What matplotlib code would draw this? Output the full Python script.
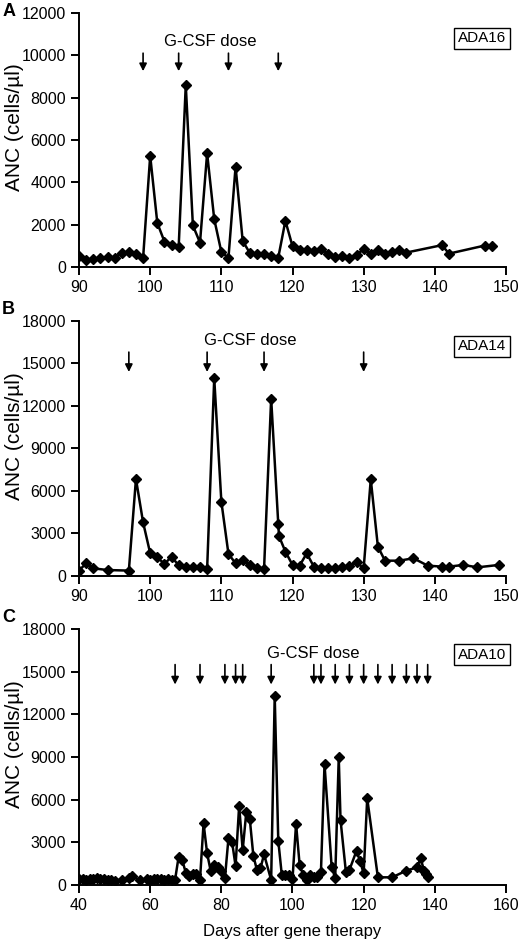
import numpy as np
import matplotlib
matplotlib.use('Agg')
import matplotlib.pyplot as plt

plt.rcParams['font.family'] = ['Liberation Sans', 'DejaVu Sans']

# panel A - ADA16
days_a = [90, 91, 92, 93, 94, 95, 96, 97, 98, 99, 100, 101, 102, 103, 104, 105, 106, 107,
          108, 109, 110, 111, 112, 113, 114, 115, 116, 117, 118, 119, 120, 121, 122, 123,
          124, 125, 126, 127, 128, 129, 130, 131, 132, 133, 134, 135, 136, 141, 142, 147, 148]
anc_a = [500, 350, 380, 410, 470, 430, 680, 710, 600, 410, 5250, 2080, 1200, 1030, 920,
         8590, 1960, 1150, 5370, 2260, 710, 430, 4740, 1230, 660, 630, 630, 540, 440, 2180,
         980, 790, 790, 760, 870, 600, 470, 500, 440, 570, 840, 630, 810, 620, 700, 790,
         680, 1030, 630, 1010, 1010]
doses_a = [99, 104, 111, 118]

# panel B - ADA14
days_b = [90, 91, 92, 94, 97, 98, 99, 100, 101, 102, 103, 104, 105, 106, 107, 108, 109,
          110, 111, 112, 113, 114, 115, 116, 117, 118, 118.1, 119, 120, 121, 122, 123, 124,
          125, 126, 127, 128, 129, 130, 131, 132, 133, 135, 137, 139, 141, 142, 144, 146, 149]
anc_b = [380, 900, 540, 420, 380, 6850, 3790, 1600, 1320, 850, 1360, 750, 660, 610, 660,
         470, 13950, 5250, 1550, 900, 1130, 780, 540, 470, 12520, 3670, 2820, 1720, 780,
         730, 1600, 660, 590, 590, 590, 610, 730, 960, 540, 6820, 2070, 1080, 1080, 1250,
         730, 660, 660, 780, 610, 780]
doses_b = [97, 108, 116, 130]

# panel C - ADA10
days_c = [40, 41, 42, 43, 44, 45, 46, 47, 48, 49, 50, 52, 54, 55, 57, 59, 60, 61, 62, 63,
          64, 65, 66, 67, 68, 69, 70, 71, 72, 73, 74, 75, 76, 77, 78, 79, 80, 81, 82, 83,
          84, 85, 86, 87, 88, 89, 90, 91, 92, 94, 95, 96, 97, 98, 99, 100, 101, 102, 103,
          104, 105, 106, 107, 108, 109, 111, 112, 113, 113.5, 115, 116, 118, 119, 120, 121,
          124, 128, 132, 135, 136, 137, 137.5, 138]
anc_c = [450, 430, 380, 420, 400, 500, 400, 420, 380, 350, 300, 380, 500, 600, 350, 400,
         380, 420, 400, 420, 380, 400, 350, 380, 2000, 1760, 870, 620, 760, 760, 380,
         4340, 2230, 990, 1410, 1250, 990, 470, 3285, 3050, 1340, 5560, 2460, 5100, 4620,
         2040, 1060, 1170, 2160, 350, 13310, 3120, 690, 690, 690, 400, 4300, 1430, 690,
         350, 700, 540, 590, 940, 8500, 1290, 470, 8970, 4570, 940, 1060, 2410, 1660, 820,
         6100, 540, 540, 1010, 1240, 1870, 1010, 770, 540]
doses_c = [67, 74, 81, 84, 86, 94, 106, 108, 112, 116, 120, 124, 128, 132, 135, 138]

panels = [
    ('A', 'ADA16', days_a, anc_a, doses_a, (90, 150, 10), (0, 12000, 2000), (10100, 9250), (108.5, 10650)),
    ('B', 'ADA14', days_b, anc_b, doses_b, (90, 150, 10), (0, 18000, 3000), (15800, 14400), (114, 16650)),
    ('C', 'ADA10', days_c, anc_c, doses_c, (40, 160, 20), (0, 18000, 3000), (15500, 14100), (105.7, 16270)),
]

fig = plt.figure(figsize=(5.2, 9.39), dpi=100)
bottoms = [0.7157, 0.3866, 0.0575]
heights = [0.2705, 0.2716, 0.2726]
letter_y = [0.9878, 0.6699, 0.3429]

for (letter, patient, xs, ys, doses, xr, yr, arr, txt), b, h, ly in zip(panels, bottoms, heights, letter_y):
    ax = fig.add_axes([0.152, b, 0.821, h])
    ax.plot(xs, ys, color='black', lw=1.8, marker='D', ms=4.8)
    ax.set_xlim(xr[0], xr[1])
    ax.set_ylim(yr[0], yr[1])
    ax.set_xticks(np.arange(xr[0], xr[1] + 1, xr[2]))
    ax.set_yticks(np.arange(yr[0], yr[1] + 1, yr[2]))
    for s in ['top', 'right']:
        ax.spines[s].set_visible(False)
    for s in ['left', 'bottom']:
        ax.spines[s].set_linewidth(1.4)
    ax.tick_params(direction='out', length=6, width=1.4, labelsize=11.5)
    ax.set_ylabel('ANC (cells/µl)', fontsize=15)
    ax.yaxis.set_label_coords(-0.128, 0.55)

    # dose arrows
    for d in doses:
        ax.annotate('', xy=(d, arr[1]), xytext=(d, arr[0]),
                    arrowprops=dict(arrowstyle='-|>', color='black', lw=1.2,
                                    mutation_scale=11, shrinkA=0, shrinkB=0))
    ax.text(txt[0], txt[1], 'G-CSF dose', fontsize=12, ha='center', va='center')
    ax.text(1.0, 0.9, patient, transform=ax.transAxes, fontsize=11, ha='right', va='center',
            bbox=dict(boxstyle='square,pad=0.25', fc='white', ec='black', lw=1))
    fig.text(0.004, ly, letter, fontsize=13, fontweight='bold', va='center')

    if letter == 'C':
        ax.set_xlabel('Days after gene therapy', fontsize=12, labelpad=8)

fig.savefig('out.png', dpi=100)
